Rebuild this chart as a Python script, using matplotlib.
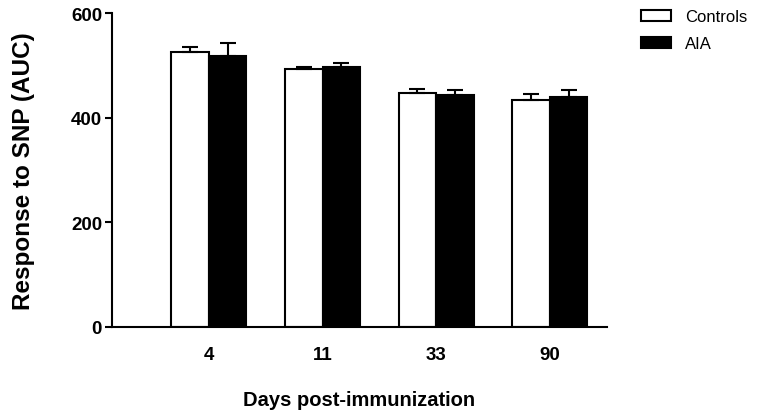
import numpy as np
import matplotlib.pyplot as plt

plt.rcParams['font.family'] = ['Liberation Sans', 'DejaVu Sans']

# Data
days = ["4", "11", "33", "90"]
controls = [526, 494, 447, 434]
controls_err = [9, 3, 8, 11]
aia = [517, 496, 444, 439]
aia_err = [26, 9, 8, 13]

x = np.arange(1, len(days) + 1)
w = 0.33

fig = plt.figure(figsize=(7.66, 4.14), dpi=100)
ax = fig.add_axes([0.146, 0.208, 0.646, 0.758])

err_kw = dict(capsize=6, elinewidth=1.5, capthick=1.5, ecolor="black")
ax.bar(x - w/2, controls, w, color="white", edgecolor="black", linewidth=1.5,
       yerr=[np.zeros(4), controls_err], error_kw=err_kw, label="Controls")
ax.bar(x + w/2, aia, w, color="black", edgecolor="black", linewidth=1.5,
       yerr=[np.zeros(4), aia_err], error_kw=err_kw, label="AIA")

ax.set_xlim(0.145, 4.5)
ax.set_ylim(0, 600)
ax.set_yticks([0, 200, 400, 600])
ax.set_xticks(x)
ax.set_xticklabels(days)
ax.tick_params(axis="x", length=0, pad=14)
ax.tick_params(axis="y", length=5, width=1.5, pad=2)
for lbl in ax.get_xticklabels() + ax.get_yticklabels():
    lbl.set_fontweight("bold")
    lbl.set_fontsize(13.5)

for s in ["top", "right"]:
    ax.spines[s].set_visible(False)
for s in ["left", "bottom"]:
    ax.spines[s].set_linewidth(1.5)

ax.set_xlabel("Days post-immunization", fontsize=14.5, fontweight="bold", labelpad=19)
ax.set_ylabel("Response to SNP (AUC)", fontsize=17.5, fontweight="bold", labelpad=26)

ax.legend(loc="upper left", bbox_to_anchor=(1.04, 1.06), frameon=False,
          fontsize=12, handlelength=1.8, handleheight=0.7, labelspacing=0.72)

fig.savefig("out.png", dpi=100)
